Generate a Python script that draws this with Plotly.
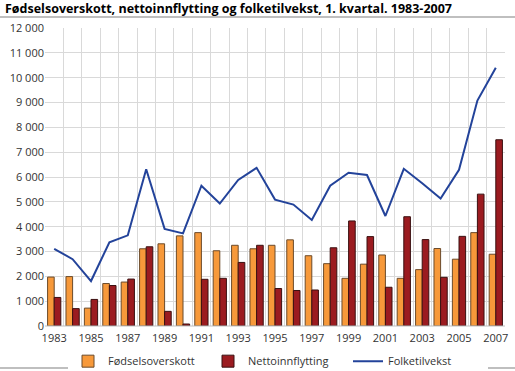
import plotly.graph_objects as go

years = list(range(1983, 2008))
fodselsoverskott = [1970, 1990, 720, 1710, 1770, 3110, 3310, 3630, 3760, 3030,
                    3250, 3110, 3250, 3470, 2830, 2510, 1920, 2490, 2860, 1920,
                    2270, 3120, 2690, 3760, 2890]
nettoinnflytting = [1150, 700, 1070, 1630, 1890, 3190, 590, 80, 1880, 1920,
                    2560, 3250, 1510, 1430, 1450, 3150, 4230, 3600, 1560, 4400,
                    3480, 1960, 3610, 5310, 7500]
folketilvekst = [3110, 2690, 1810, 3370, 3650, 6310, 3910, 3730, 5650, 4930,
                 5880, 6370, 5090, 4890, 4270, 5650, 6170, 6080, 4430, 6330,
                 5750, 5130, 6290, 9080, 10400]
ytick_vals = list(range(0, 12001, 1000))
ytick_text = ["0"] + [f"{v // 1000} 000" for v in ytick_vals[1:]]
xtick_vals = list(range(1983, 2008, 2))

font = "Open Sans"
fig = go.Figure()
fig.add_trace(go.Bar(x=years, y=fodselsoverskott, name="Fødselsoverskott",
                     marker=dict(color="#F7993A", line=dict(color="#6B4A2A", width=1))))
fig.add_trace(go.Bar(x=years, y=nettoinnflytting, name="Nettoinnflytting",
                     marker=dict(color="#9B1B20", line=dict(color="#3A1010", width=1))))
fig.add_trace(go.Scatter(x=years, y=folketilvekst, name="Folketilvekst", mode="lines",
                         line=dict(color="#23439A", width=2)))

fig.update_layout(
    width=515, height=371,
    margin=dict(l=45, r=10, t=28, b=45, autoexpand=False),
    paper_bgcolor="white", plot_bgcolor="white",
    barmode="group", bargap=0.28, bargroupgap=0,
    font=dict(family=font, size=11, color="#333333"),
    showlegend=True,
    legend=dict(orientation="h", x=(68 - 45) / 460, xanchor="left", y=-0.118, yanchor="middle",
                font=dict(size=11, color="#333333"), traceorder="normal",
                itemwidth=30, entrywidth=95, entrywidthmode="pixels"),
    title=dict(text="<b>Fødselsoverskott, nettoinnflytting og folketilvekst, 1. kvartal. 1983-2007</b>",
               x=5 / 515, xanchor="left", y=1 - 9 / 371, yanchor="middle",
               font=dict(family=font, size=12.5, color="#000000")),
    xaxis=dict(range=[1982.5, 2007.5], tickvals=xtick_vals, ticktext=[str(v) for v in xtick_vals],
               showgrid=False, zeroline=False, ticks="", showline=False, ticklabelstandoff=4,
               tickfont=dict(size=11, color="#333333"),
               minor=dict(tick0=1982.5, dtick=1, showgrid=True, gridcolor="#D9D9D9", gridwidth=1)),
    yaxis=dict(range=[0, 12000], tickvals=ytick_vals, ticktext=ytick_text,
               showgrid=True, gridcolor="#D9D9D9", gridwidth=1, zeroline=False,
               showline=False, ticks="", tickfont=dict(size=11, color="#333333")),
    shapes=[
        dict(type="line", xref="paper", yref="paper", x0=-45 / 460, x1=1 + 10 / 460,
             y0=(326 - 17) / 298, y1=(326 - 17) / 298, line=dict(color="#BFBFBF", width=2)),
        dict(type="line", xref="paper", yref="paper", x0=-45 / 460, x1=1 + 10 / 460,
             y0=(326 - 368) / 298, y1=(326 - 368) / 298, line=dict(color="#BFBFBF", width=2)),
        dict(type="line", xref="paper", yref="paper", x0=0, x1=1, y0=0, y1=0,
             line=dict(color="#BFBFBF", width=1)),
    ],
)

fig.write_html("out.html", config={"displayModeBar": False},
               post_script="document.body.style.margin='0';")
